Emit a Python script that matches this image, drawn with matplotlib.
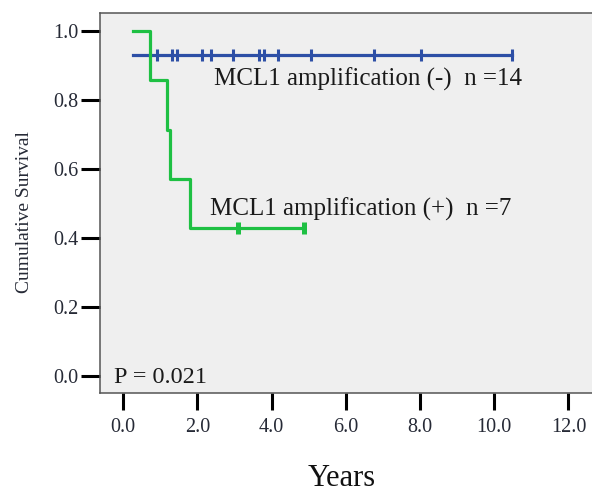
import numpy as np
import matplotlib
matplotlib.use("Agg")
import matplotlib.pyplot as plt

# ---- data ----
neg_step_t = [0.27, 10.47]
neg_step_s = [0.929, 0.929]
neg_censor_t = [0.90, 1.30, 1.44, 2.13, 2.36, 2.96, 3.66, 3.79, 4.16, 5.05, 6.76, 8.02, 10.47]

pos_step_t = [0.27, 0.72, 1.17, 1.26, 1.80, 4.88]
pos_step_s = [1.0, 0.857, 0.714, 0.571, 0.429, 0.429]
pos_censor_t = [3.10, 4.88]

x_ticks = [0, 2, 4, 6, 8, 10, 12]
y_ticks = [0.0, 0.2, 0.4, 0.6, 0.8, 1.0]

label_neg = "MCL1 amplification (-)  n =14"
label_pos = "MCL1 amplification (+)  n =7"
p_text = "P = 0.021"

BLUE = "#2d4fa6"
GREEN = "#1ec043"
TXT = "#262a36"

plt.rcParams["font.family"] = ["Liberation Serif", "DejaVu Serif"]

W, H = 592, 493
fig = plt.figure(figsize=(W / 100, H / 100), dpi=100)
# axes box in pixels: left 100, top 12.7, bottom 393, right beyond figure
x_left, x_right = -0.628, 13.0
px_per_x = 37.1
ax_w_px = (x_right - x_left) * px_per_x
ax = fig.add_axes([100 / W, (H - 393) / H, ax_w_px / W, (393 - 12.7) / H])
ax.set_xlim(x_left, x_right)
ax.set_ylim(-0.049, 1.053)
ax.set_facecolor("#efefef")
for s in ax.spines.values():
    s.set_color("#555555")
    s.set_linewidth(1.1)


def surv_at(ts, ss, t):
    idx = np.searchsorted(ts, t, side="right") - 1
    return np.asarray(ss)[idx]


ax.step(neg_step_t, neg_step_s, where="post", color=BLUE, lw=2.3, zorder=3)
ax.plot(neg_censor_t, surv_at(neg_step_t, neg_step_s, neg_censor_t), ls="none",
        marker="|", ms=9, mew=2.2, color=BLUE, zorder=3)

ax.step(pos_step_t, pos_step_s, where="post", color=GREEN, lw=2.3, zorder=4)
ax.plot(pos_censor_t, surv_at(pos_step_t, pos_step_s, pos_censor_t), ls="none",
        marker="|", ms=9, mew=3.6, color=GREEN, zorder=4)

ax.set_xticks(x_ticks)
ax.set_xticklabels([f"{v:.1f}" for v in x_ticks])
ax.set_yticks(y_ticks)
ax.set_yticklabels([f"{v:.1f}" for v in y_ticks])
ax.tick_params(axis="y", direction="out", length=13.5, width=2.2, color="black",
               pad=2, labelsize=14.5, labelcolor=TXT)
ax.tick_params(axis="x", direction="out", length=12, width=2.2, color="black",
               pad=6, labelsize=14.5, labelcolor=TXT)

ax.text(2.455, 0.843, label_neg, fontsize=18, color="#1a1a1a", zorder=5)
ax.text(2.35, 0.466, label_pos, fontsize=18, color="#1a1a1a", zorder=5)
ax.text(-0.25, -0.02, p_text, fontsize=17.5, color="#1a1a1a", zorder=5)

fig.text(342 / W, 1 - 479 / H, "Years", fontsize=22, color="#111111",
         ha="center", va="center")
fig.text(25 / W, 1 - 212 / H, "Cumulative Survival", fontsize=14, color=TXT,
         ha="center", va="center", rotation=90)

fig.savefig("out.png", dpi=100)
